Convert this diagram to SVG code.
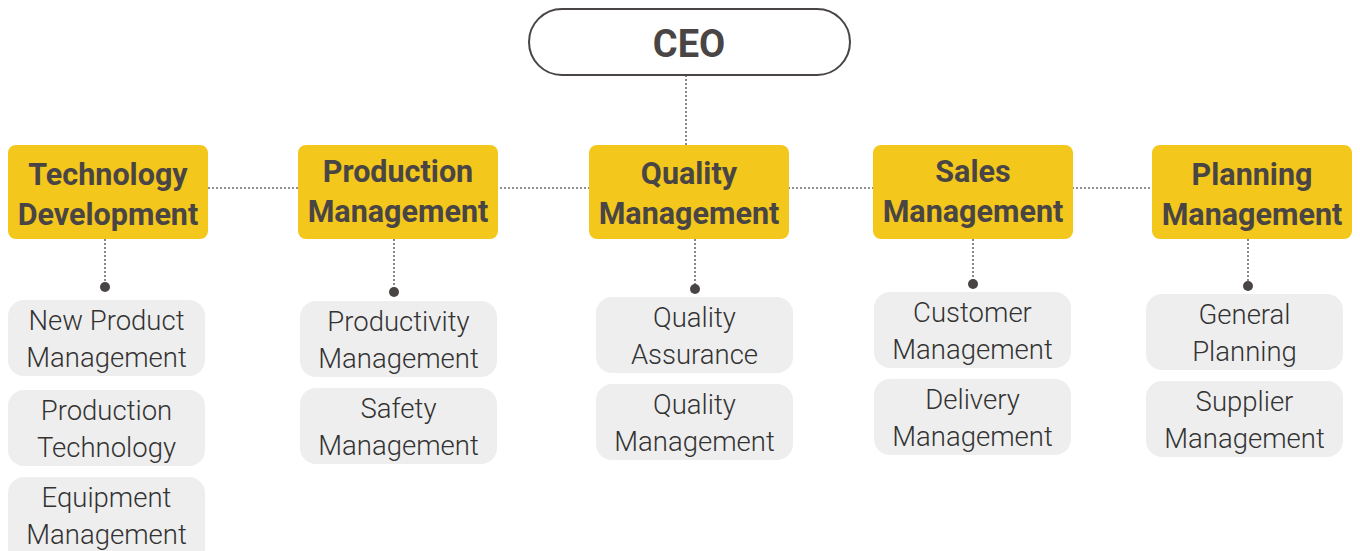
<svg xmlns="http://www.w3.org/2000/svg" width="1360" height="551" viewBox="0 0 1360 551">
<style>
.dept{fill:#F3C71C;}
.dt{font-family:Roboto,"Liberation Sans",sans-serif;font-weight:700;font-size:30.5px;fill:#4a4545;text-anchor:middle;}
.sub{fill:#eeeeee;}
.st{font-family:Roboto,"Liberation Sans",sans-serif;font-weight:300;font-size:27.5px;fill:#333333;text-anchor:middle;}
.dot{fill:#4a4545;}
.ln{stroke:#6d6a6a;stroke-width:1.6;stroke-dasharray:2 2;fill:none;}
</style>
<rect width="1360" height="551" fill="#ffffff"/>
<g id="connectors">
<line class="ln" x1="686" y1="75" x2="686" y2="145"/>
<line class="ln" x1="208" y1="188" x2="1152" y2="188"/>
<line class="ln" x1="105" y1="239" x2="105" y2="287"/>
<line class="ln" x1="394" y1="239" x2="394" y2="292"/>
<line class="ln" x1="695" y1="239" x2="695" y2="289"/>
<line class="ln" x1="973" y1="239" x2="973" y2="284"/>
<line class="ln" x1="1248" y1="239" x2="1248" y2="286"/>
<circle class="dot" cx="105" cy="287" r="5"/>
<circle class="dot" cx="394" cy="292" r="5"/>
<circle class="dot" cx="695" cy="289" r="5"/>
<circle class="dot" cx="973" cy="284" r="5"/>
<circle class="dot" cx="1248" cy="286" r="5"/>
</g>
<g id="ceo">
<rect x="529" y="9" width="321" height="66" rx="33" fill="#ffffff" stroke="#4a4545" stroke-width="2"/>
<text x="689" y="57" font-family="Roboto,'Liberation Sans',sans-serif" font-weight="700" font-size="38" fill="#4a4545" text-anchor="middle">CEO</text>
</g>
<g id="tech-dev">
<rect class="dept" x="8" y="145" width="200" height="94" rx="8"/>
<text class="dt" x="108" y="185">Technology</text>
<text class="dt" x="108" y="225">Development</text>
</g>
<g id="production-mgmt">
<rect class="dept" x="298" y="145" width="200" height="94" rx="8"/>
<text class="dt" x="398" y="182">Production</text>
<text class="dt" x="398" y="222">Management</text>
</g>
<g id="quality-mgmt">
<rect class="dept" x="589" y="145" width="200" height="94" rx="8"/>
<text class="dt" x="689" y="184">Quality</text>
<text class="dt" x="689" y="224">Management</text>
</g>
<g id="sales-mgmt">
<rect class="dept" x="873" y="145" width="200" height="94" rx="8"/>
<text class="dt" x="973" y="182">Sales</text>
<text class="dt" x="973" y="222">Management</text>
</g>
<g id="planning-mgmt">
<rect class="dept" x="1152" y="145" width="200" height="94" rx="8"/>
<text class="dt" x="1252" y="185">Planning</text>
<text class="dt" x="1252" y="225">Management</text>
</g>
<g id="new-product">
<rect class="sub" x="8" y="300" width="197" height="76" rx="16"/>
<text class="st" x="106.5" y="330">New Product</text>
<text class="st" x="106.5" y="367">Management</text>
</g>
<g id="production-tech">
<rect class="sub" x="8" y="390" width="197" height="76" rx="16"/>
<text class="st" x="106.5" y="420">Production</text>
<text class="st" x="106.5" y="457">Technology</text>
</g>
<g id="equipment">
<rect class="sub" x="8" y="477" width="197" height="90" rx="16"/>
<text class="st" x="106.5" y="507">Equipment</text>
<text class="st" x="106.5" y="544">Management</text>
</g>
<g id="productivity">
<rect class="sub" x="300" y="301" width="197" height="76" rx="16"/>
<text class="st" x="398.5" y="331">Productivity</text>
<text class="st" x="398.5" y="368">Management</text>
</g>
<g id="safety">
<rect class="sub" x="300" y="388" width="197" height="76" rx="16"/>
<text class="st" x="398.5" y="418">Safety</text>
<text class="st" x="398.5" y="455">Management</text>
</g>
<g id="quality-assurance">
<rect class="sub" x="596" y="297" width="197" height="76" rx="16"/>
<text class="st" x="694.5" y="327">Quality</text>
<text class="st" x="694.5" y="364">Assurance</text>
</g>
<g id="quality-management-sub">
<rect class="sub" x="596" y="384" width="197" height="76" rx="16"/>
<text class="st" x="694.5" y="414">Quality</text>
<text class="st" x="694.5" y="451">Management</text>
</g>
<g id="customer">
<rect class="sub" x="874" y="292" width="197" height="76" rx="16"/>
<text class="st" x="972.5" y="322">Customer</text>
<text class="st" x="972.5" y="359">Management</text>
</g>
<g id="delivery">
<rect class="sub" x="874" y="379" width="197" height="76" rx="16"/>
<text class="st" x="972.5" y="409">Delivery</text>
<text class="st" x="972.5" y="446">Management</text>
</g>
<g id="general-planning">
<rect class="sub" x="1146" y="294" width="197" height="76" rx="16"/>
<text class="st" x="1244.5" y="324">General</text>
<text class="st" x="1244.5" y="361">Planning</text>
</g>
<g id="supplier">
<rect class="sub" x="1146" y="381" width="197" height="76" rx="16"/>
<text class="st" x="1244.5" y="411">Supplier</text>
<text class="st" x="1244.5" y="448">Management</text>
</g>
</svg>
